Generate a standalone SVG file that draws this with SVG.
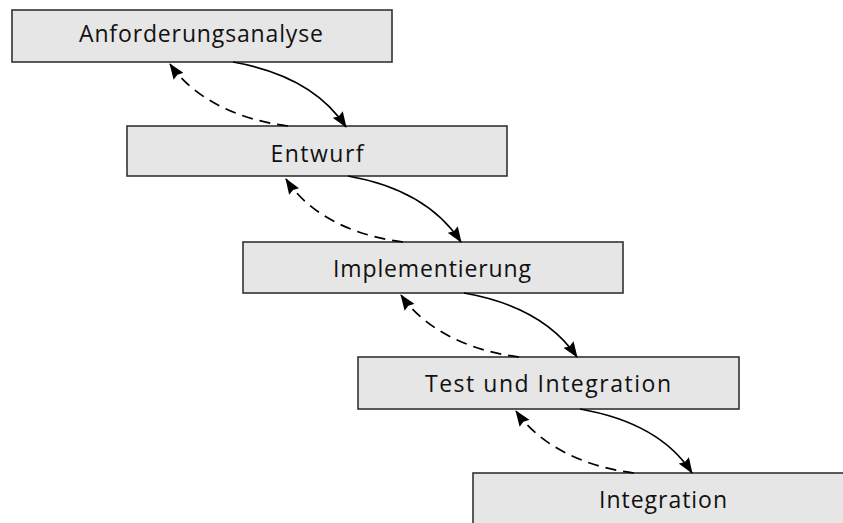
<svg xmlns="http://www.w3.org/2000/svg" width="843" height="523" viewBox="0 0 843 523">
<style>
.box{fill:#e6e6e6;stroke:#333;stroke-width:1.6}
.lbl{font-family:"Open Sans","Liberation Sans",Arial,sans-serif;font-size:23px;fill:#111;text-anchor:middle}
.fw{fill:none;stroke:#000;stroke-width:1.7}
.bw{fill:none;stroke:#000;stroke-width:1.7;stroke-dasharray:11 7}
</style>
<defs>
<marker id="ah" viewBox="0 0 16 12" refX="15" refY="6" markerWidth="16" markerHeight="12" markerUnits="userSpaceOnUse" orient="auto">
<path d="M0,0 L16,6 L0,12 L2,6 Z" fill="#000"/>
</marker>
</defs>
<rect width="843" height="523" fill="#fff"/>
<g id="n1"><rect class="box" x="12" y="10" width="380" height="52"/><text class="lbl" x="201" y="42" textLength="244" lengthAdjust="spacing">Anforderungsanalyse</text></g>
<g id="n2"><rect class="box" x="127" y="126" width="380" height="50"/><text class="lbl" x="317" y="162" textLength="93" lengthAdjust="spacing">Entwurf</text></g>
<g id="n3"><rect class="box" x="243" y="242" width="380" height="51"/><text class="lbl" x="432" y="277" textLength="198" lengthAdjust="spacing">Implementierung</text></g>
<g id="n4"><rect class="box" x="358" y="357" width="381" height="52"/><text class="lbl" x="548" y="392" textLength="246" lengthAdjust="spacing">Test und Integration</text></g>
<g id="n5"><rect class="box" x="473" y="473" width="380" height="52"/><text class="lbl" x="663" y="508" textLength="128" lengthAdjust="spacing">Integration</text></g>
<g id="connectors">
<path class="fw" d="M233,62 C290,72 325,95 346,127" marker-end="url(#ah)"/>
<path class="bw" d="M288,126 C240,120 195,100 170,64" marker-end="url(#ah)"/>
<path class="fw" d="M348,176 C405,186 440,210 461,242" marker-end="url(#ah)"/>
<path class="bw" d="M403,242 C355,236 310,216 286,179" marker-end="url(#ah)"/>
<path class="fw" d="M464,293 C521,303 556,326 577,357" marker-end="url(#ah)"/>
<path class="bw" d="M519,357 C471,351 426,331 401,295" marker-end="url(#ah)"/>
<path class="fw" d="M580,409 C637,419 672,442 692,473" marker-end="url(#ah)"/>
<path class="bw" d="M634,473 C586,467 541,447 516,411" marker-end="url(#ah)"/>
</g>
</svg>
